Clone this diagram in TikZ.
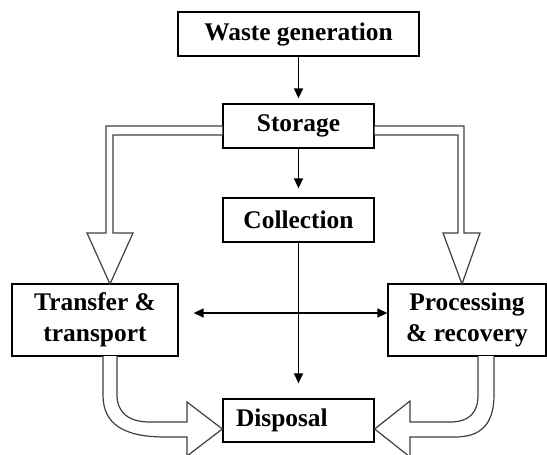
\documentclass[tikz,border=0pt]{standalone}
\usepackage{fontspec}
\setmainfont{Liberation Serif}
\usetikzlibrary{arrows.meta}
\begin{document}
\begin{tikzpicture}[x=1pt,y=-1pt,
  box/.style={draw=black,line width=1.3pt,rectangle,inner sep=0pt,align=center,
    font=\fontsize{25.4}{31}\selectfont\bfseries},
  thin/.style={line width=1.4pt,-{Triangle[length=10pt,width=9pt]}},
  hollow/.style={draw=black!75,line width=1.2pt,fill=white,line join=miter}]
\useasboundingbox (0,0) rectangle (547,455);
\fill[white] (0,0) rectangle (547,455);
\node[box,minimum width=241pt,minimum height=44pt] (wg) at (298.5,34) {Waste generation};
\node[box,minimum width=151pt,minimum height=44pt] (st) at (298.5,126) {Storage};
\node[box,minimum width=151pt,minimum height=44pt] (co) at (298.5,220) {Collection};
\node[box,minimum width=166pt,minimum height=72pt] (tr) at (95,320) {Transfer \&\\transport};
\node[box,minimum width=158pt,minimum height=72pt] (pr) at (467,320) {Processing\\\& recovery};
\node[box,text width=125pt,inner xsep=13pt,align=left,minimum height=43pt] (di) at (298.5,420.5) {Disposal};
% thin arrows
\draw[thin,shorten >=5pt] (wg.south) -- (st.north);
\draw[thin,shorten >=9pt] (st.south) -- (co.north);
\draw[thin,shorten >=15pt] (co.south) -- (di.north);
\draw[line width=1.4pt,{Triangle[length=10pt,width=9pt]}-{Triangle[length=10pt,width=9pt]},shorten <=15pt]
  ([yshift=7pt]tr.east) -- ([yshift=7pt]pr.west);
% hollow arrows from storage
\path[hollow] (st.west) -- (106,126) -- (106,233) -- (87,233) -- (110,284) -- (133,233)
  -- (113,233) -- (113,135) -- ([yshift=-9pt]st.west);
\path[hollow] (st.east) -- (464,126) -- (464,233) -- (480,233) -- (462,284) -- (443,233)
  -- (458,233) -- (458,135) -- ([yshift=-9pt]st.east);
% hollow curved arrows to disposal
\path[hollow] (103,356) -- (103,395) .. controls (103,425) and (125,437) .. (165,437) -- (187,437)
  -- (187,456) -- (di.west |- 0,429) -- (187,402) -- (187,422) -- (150,422)
  .. controls (128,422) and (117,412) .. (117,395) -- (117,356);
\path[hollow] (478,356) -- (478,395) .. controls (478,412) and (470,422) .. (450,422) -- (410,422)
  -- (410,401) -- (di.east |- 0,429) -- (410,457) -- (410,437) -- (455,437)
  .. controls (480,437) and (494,425) .. (494,395) -- (494,356);
\end{tikzpicture}
\end{document}
